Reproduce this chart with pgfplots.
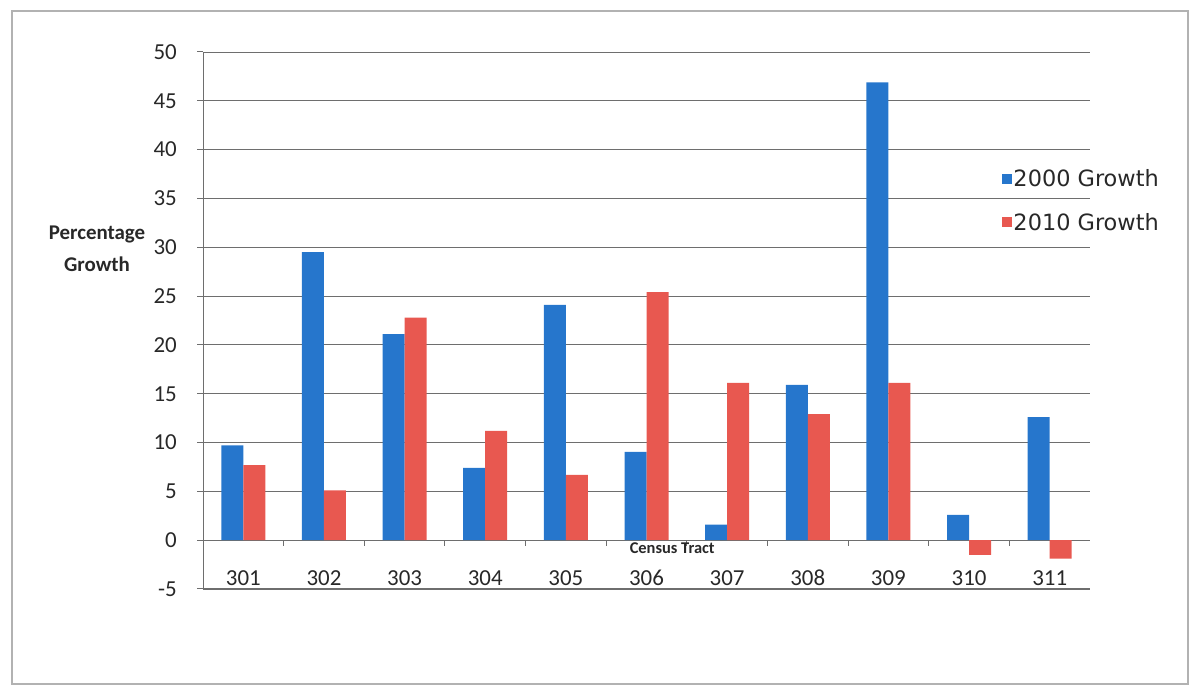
\documentclass[border=0pt]{standalone}
\usepackage{fontspec}
\setmainfont{Carlito}
\newfontfamily\legfont{DejaVu Sans}
\usepackage{pgfplots}
\pgfplotsset{compat=1.18}
\definecolor{cblue}{RGB}{38,118,204}
\definecolor{cred}{RGB}{232,88,80}
\definecolor{gridc}{RGB}{110,110,110}
\definecolor{txt}{RGB}{40,40,40}
\begin{document}
\begin{tikzpicture}
\path[use as bounding box] (0bp,0bp) rectangle (1191bp,690bp);
\draw[gray!60, line width=1.5bp] (12bp,6bp) rectangle (1188bp,679bp);
\node[align=center, font=\bfseries\fontsize{21}{32}\selectfont, text=txt] at (97bp,441bp) {Percentage\\Growth};
\begin{axis}[
  at={(203bp,101bp)}, anchor=south west,
  scale only axis, width=887bp, height=537bp,
  ymin=-5, ymax=50, ytick={-5,0,...,50},
  xmin=-0.5, xmax=10.5, xtick={0,...,10},
  xticklabels={301,302,303,304,305,306,307,308,309,310,311},
  /pgf/number format/assume math mode=true,
  ticklabel style={font=\fontsize{23}{26}\selectfont, text=txt},
  yticklabel style={anchor=east, inner sep=0pt, xshift=-20bp},
  xticklabel style={anchor=base, inner sep=0pt, yshift=9bp},
  separate axis lines,
  axis x line*=bottom, axis y line*=left,
  axis line style={gridc, line width=1bp, -},
  ytick style={gridc, line width=1bp},
  xtick style={draw=none},
  tick align=outside, major tick length=6bp,
  ymajorgrids, grid style={gridc, line width=0.9bp},
  ybar=0pt, bar width=22bp,
  xlabel={Census Tract},
  xlabel style={at={(axis description cs:0.529,0.076)}, anchor=center, font=\bfseries\fontsize{16.5}{18}\selectfont, text=txt},
  legend style={at={(0.900,0.785)}, anchor=north west, draw=none, fill=none,
    font=\legfont\fontsize{22.5}{26}\selectfont, text=txt, row sep=21bp, inner sep=0pt},
  legend cell align=left,
  legend image code/.code={\fill[#1] (0bp,-5bp) rectangle (10bp,5bp);},
]
\addplot[fill=cblue, draw=none] coordinates {(0,9.7) (1,29.5) (2,21.1) (3,7.4) (4,24.1) (5,9.05) (6,1.6) (7,15.9) (8,46.9) (9,2.6) (10,12.6)};
\addplot[fill=cred, draw=none] coordinates {(0,7.7) (1,5.1) (2,22.8) (3,11.2) (4,6.7) (5,25.4) (6,16.1) (7,12.9) (8,16.1) (9,-1.5) (10,-1.9)};
\legend{2000 Growth, 2010 Growth}
\pgfplotsinvokeforeach{0,...,9}{\draw[gridc, line width=1bp] (axis cs:#1.5,0) -- ([yshift=-6bp]axis cs:#1.5,0);}
\end{axis}
\end{tikzpicture}
\end{document}
